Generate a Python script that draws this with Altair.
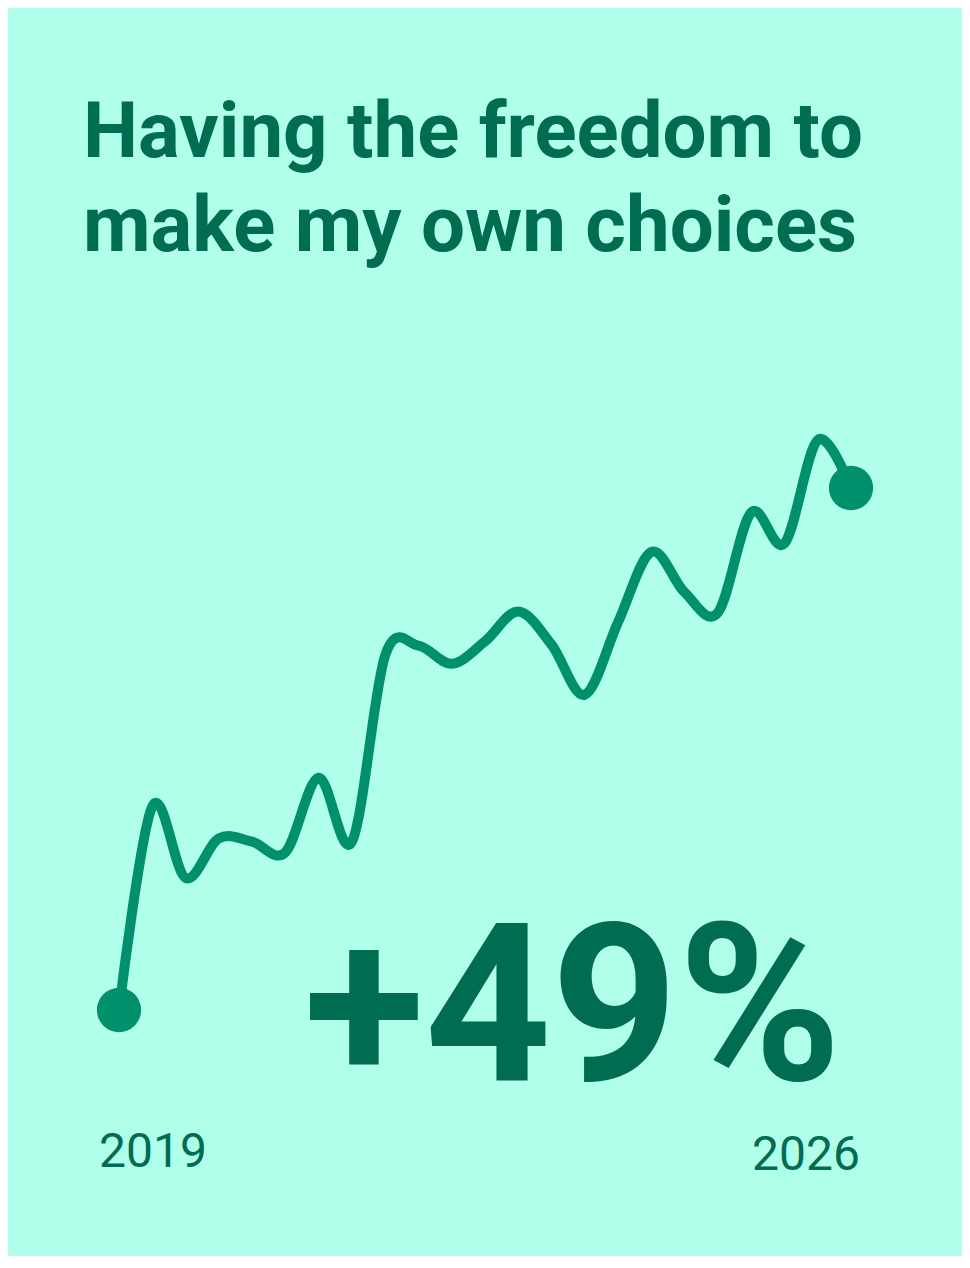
import altair as alt
import pandas as pd

# ---- data ----
periods = list(range(23))
values = [100.0, 119.1, 112.4, 116.1, 115.8, 114.8, 121.8, 115.8, 133.3, 134.2,
          132.5, 134.6, 137.4, 134.3, 129.6, 136.4, 143.0, 139.2, 137.3, 146.7,
          143.8, 153.5, 149.0]
title_lines = ["Having the freedom to", "make my own choices"]
change_label = ["+49%"]
start_year = ["2019"]
end_year = ["2026"]

# ---- styling ----
BG = "#b0ffeb"
DARK = "#006d50"
LINE = "#00916c"
W, H = 954, 1248

df = pd.DataFrame({"period": periods, "value": values})
ends = df.iloc[[0, len(df) - 1]].reset_index(drop=True)

x_scale = alt.Scale(domain=[-3.336, 25.336], nice=False, zero=False)
y_scale = alt.Scale(domain=[76.908, 194.056], nice=False, zero=False)

base = alt.Chart(df).encode(
    x=alt.X("period:Q", scale=x_scale, axis=None),
    y=alt.Y("value:Q", scale=y_scale, axis=None),
)

line = base.mark_line(interpolate="cardinal", strokeWidth=10, color=LINE,
                      strokeCap="round", strokeJoin="round")

dots = alt.Chart(ends).mark_circle(size=1960, opacity=1, color=LINE).encode(
    x=alt.X("period:Q", scale=x_scale, axis=None),
    y=alt.Y("value:Q", scale=y_scale, axis=None),
)

def text_layer(lines, xpos, ypos, size, weight, align="left"):
    return alt.Chart(pd.DataFrame({"t": lines})).mark_text(
        font="Roboto", fontSize=size, fontWeight=weight, color=DARK,
        align=align, baseline="alphabetic",
    ).encode(text="t:N", x=alt.value(xpos), y=alt.value(ypos))

title1 = text_layer([title_lines[0]], 75, 149, 78, "bold")
title2 = text_layer([title_lines[1]], 75, 243, 78, "bold")
big = text_layer(change_label, 296, 1072, 221, "bold")
y1 = text_layer(start_year, 91, 1159, 48, "normal")
y2 = text_layer(end_year, 852, 1162, 48, "normal", align="right")

chart = alt.layer(line, dots, title1, title2, big, y1, y2).properties(
    width=W, height=H, padding=0, autosize=alt.AutoSizeParams(type="none"),
    background=BG,
).configure_view(stroke=None)

chart.save("out.html", embed_options={"renderer": "svg", "actions": False})
